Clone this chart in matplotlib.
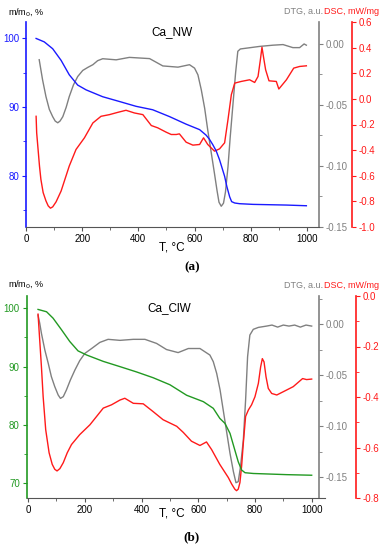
import matplotlib
matplotlib.use("Agg")
import matplotlib.pyplot as plt
from matplotlib.ticker import MultipleLocator

plt.rcParams['font.family'] = ['Liberation Sans', 'DejaVu Sans']

# ---------------- Panel (a) Ca_NW ----------------
a_mass_T = [36, 65, 95, 125, 154, 184, 214, 273, 333, 392, 451, 511, 570, 618, 641, 653, 665, 677, 689, 698, 707, 715, 725, 732, 743, 760, 808, 927, 998]
a_mass = [100, 99.5, 98.5, 96.8, 94.7, 93.2, 92.5, 91.5, 90.8, 90.1, 89.6, 88.6, 87.5, 86.7, 85.9, 85.3, 84.5, 83.6, 82.3, 81.1, 79.9, 78.4, 76.9, 76.2, 76.0, 75.9, 75.8, 75.7, 75.6]

a_dtg_T = [47, 59, 71, 83, 95, 104, 113, 121, 131, 143, 154, 169, 184, 202, 220, 238, 255, 273, 321, 368, 440, 487, 541, 582, 600, 612, 624, 636, 647, 659, 671, 680, 687, 695, 703, 710, 719, 727, 737, 746, 754, 763, 832, 879, 915, 950, 974, 990, 998]
a_dtg = [-0.0129, -0.0294, -0.0431, -0.0536, -0.0596, -0.0632, -0.0646, -0.0632, -0.0596, -0.0519, -0.0431, -0.0335, -0.0267, -0.0217, -0.0192, -0.0170, -0.0137, -0.0121, -0.013, -0.011, -0.012, -0.018, -0.019, -0.017, -0.0198, -0.0253, -0.0376, -0.0527, -0.0706, -0.0885, -0.1063, -0.1201, -0.1297, -0.1330, -0.1305, -0.1214, -0.1008, -0.0761, -0.0486, -0.0239, -0.0060, -0.0041, -0.002, -0.001, -0.0005, -0.003, -0.003, 0.000, -0.001]

a_dsc_T = [36, 38, 42, 48, 53, 61, 71, 79, 87, 95, 107, 125, 154, 178, 208, 238, 267, 297, 327, 356, 386, 416, 446, 469, 499, 517, 535, 546, 570, 594, 618, 632, 647, 671, 689, 707, 719, 731, 743, 766, 796, 814, 826, 834, 840, 846, 853, 865, 891, 900, 927, 953, 974, 998]
a_dsc = [-0.136, -0.265, -0.369, -0.524, -0.628, -0.731, -0.796, -0.835, -0.853, -0.843, -0.804, -0.719, -0.524, -0.395, -0.304, -0.188, -0.136, -0.123, -0.105, -0.089, -0.110, -0.123, -0.208, -0.226, -0.260, -0.278, -0.278, -0.273, -0.338, -0.361, -0.356, -0.304, -0.356, -0.408, -0.390, -0.343, -0.162, 0.033, 0.123, 0.136, 0.149, 0.128, 0.175, 0.300, 0.403, 0.320, 0.227, 0.141, 0.136, 0.077, 0.149, 0.240, 0.253, 0.258]

# ---------------- Panel (b) Ca_ClW ----------------
b_mass_T = [35, 65, 88, 118, 147, 176, 206, 265, 324, 382, 441, 500, 559, 618, 653, 676, 694, 712, 729, 741, 753, 765, 794, 912, 1000]
b_mass = [99.8, 99.4, 98.3, 96.3, 94.3, 92.7, 92.0, 90.9, 90.0, 89.1, 88.1, 86.9, 85.1, 84.0, 82.86, 81.14, 80.29, 78.57, 75.71, 73.71, 72.29, 71.83, 71.7, 71.5, 71.4]

b_dtg_T = [35, 41, 47, 59, 71, 82, 94, 106, 114, 124, 135, 149, 165, 182, 200, 224, 253, 282, 324, 371, 412, 453, 488, 529, 565, 606, 641, 653, 665, 677, 688, 700, 712, 724, 733, 741, 749, 759, 767, 774, 782, 794, 812, 841, 860, 880, 900, 920, 940, 960, 980, 1000]
b_dtg = [0.0088, 0.0007, -0.0092, -0.0255, -0.0386, -0.0516, -0.0614, -0.0696, -0.0729, -0.0712, -0.0647, -0.0549, -0.0451, -0.0359, -0.0288, -0.024, -0.018, -0.015, -0.016, -0.015, -0.015, -0.019, -0.025, -0.028, -0.024, -0.024, -0.0304, -0.0369, -0.0484, -0.0647, -0.0843, -0.1056, -0.1268, -0.1448, -0.1556, -0.1546, -0.1399, -0.1137, -0.0745, -0.0320, -0.0108, -0.0052, -0.0033, -0.002, -0.001, -0.003, -0.001, -0.002, -0.001, -0.003, -0.001, -0.002]

b_dsc_T = [35, 41, 47, 53, 62, 74, 85, 94, 102, 112, 124, 138, 153, 182, 218, 265, 294, 324, 341, 371, 406, 441, 476, 524, 547, 576, 606, 629, 647, 676, 706, 718, 729, 735, 741, 747, 753, 759, 767, 777, 788, 800, 812, 820, 826, 832, 839, 847, 859, 877, 900, 935, 968, 982, 1000]
b_dsc = [-0.0719, -0.1765, -0.2810, -0.3987, -0.5294, -0.6209, -0.6667, -0.6863, -0.6928, -0.6837, -0.6601, -0.6209, -0.5882, -0.549, -0.510, -0.444, -0.431, -0.412, -0.405, -0.425, -0.427, -0.458, -0.490, -0.516, -0.540, -0.575, -0.592, -0.578, -0.608, -0.667, -0.719, -0.745, -0.765, -0.771, -0.765, -0.739, -0.673, -0.582, -0.477, -0.451, -0.431, -0.399, -0.346, -0.281, -0.248, -0.261, -0.320, -0.366, -0.386, -0.392, -0.379, -0.359, -0.327, -0.331, -0.329]

W, H = 389, 550
fig = plt.figure(figsize=(W / 100, H / 100), dpi=100)

GRAY = '#808080'
RED = '#ff1a1a'
BLUE = '#1a1aff'
GREEN = '#229922'
FS = 7


def fx(px):
    return px / W


def fy(py):
    return 1 - py / H


def panel(rect, xlim, ylim_m, ylim_dtg, ylim_dsc, mass_T, mass, mcol, dtg_T, dtg, dsc_T, dsc,
          dtg_pos, dsc_pos, dsc_major, dsc_minor, title, title_xy):
    ax = fig.add_axes(rect)
    ax.set_xlim(*xlim)
    ax.set_ylim(*ylim_m)
    ax2 = ax.twinx()
    ax3 = ax.twinx()
    ax2.set_ylim(*ylim_dtg)
    ax3.set_ylim(*ylim_dsc)

    ax2.plot(dtg_T, dtg, color=GRAY, lw=1.0)
    ax3.plot(dsc_T, dsc, color=RED, lw=1.0)
    ax.plot(mass_T, mass, color=mcol, lw=1.0)
    ax.set_zorder(3)
    ax.patch.set_visible(False)

    for a in (ax, ax2, ax3):
        a.spines['top'].set_visible(False)
    ax.spines['right'].set_visible(False)
    ax2.spines['left'].set_visible(False)
    ax3.spines['left'].set_visible(False)
    ax.spines['left'].set_color(mcol)
    ax.spines['left'].set_linewidth(1.2)
    ax.spines['bottom'].set_color('#555555')
    ax2.spines['bottom'].set_visible(False)
    ax3.spines['bottom'].set_visible(False)
    ax2.spines['right'].set_position(('axes', dtg_pos))
    ax2.spines['right'].set_color(GRAY)
    ax2.spines['right'].set_linewidth(1.2)
    ax3.spines['right'].set_position(('axes', dsc_pos))
    ax3.spines['right'].set_color(RED)
    ax3.spines['right'].set_linewidth(1.2)

    ax.xaxis.set_major_locator(MultipleLocator(200))
    ax.xaxis.set_minor_locator(MultipleLocator(100))
    ax.yaxis.set_major_locator(MultipleLocator(10))
    ax.yaxis.set_minor_locator(MultipleLocator(5))
    ax.tick_params(axis='x', which='both', direction='out', colors='#555555', labelcolor='black',
                   labelsize=FS, pad=2)
    ax.tick_params(axis='x', which='major', length=3)
    ax.tick_params(axis='x', which='minor', length=2)
    ax.tick_params(axis='y', which='both', direction='out', colors=mcol, labelsize=FS, pad=2)
    ax.tick_params(axis='y', which='major', length=3)
    ax.tick_params(axis='y', which='minor', length=2)

    ax2.yaxis.set_major_locator(MultipleLocator(0.05))
    ax2.yaxis.set_minor_locator(MultipleLocator(0.025))
    ax2.yaxis.set_major_formatter(plt.FuncFormatter(lambda v, p: f"{v:.2f}".replace('-0.00', '0.00')))
    ax2.tick_params(axis='y', which='both', direction='out', colors=GRAY, labelsize=FS, pad=2)
    ax2.tick_params(axis='y', which='major', length=3)
    ax2.tick_params(axis='y', which='minor', length=2)

    ax3.yaxis.set_major_locator(MultipleLocator(dsc_major))
    if dsc_minor:
        ax3.yaxis.set_minor_locator(MultipleLocator(dsc_minor))
    ax3.yaxis.set_major_formatter(plt.FuncFormatter(lambda v, p: f"{v:.1f}".replace('-0.0', '0.0')))
    ax3.tick_params(axis='y', which='both', direction='out', colors=RED, labelsize=FS, pad=2)
    ax3.tick_params(axis='y', which='major', length=3)
    ax3.tick_params(axis='y', which='minor', length=2)

    fig.text(fx(title_xy[0]), fy(title_xy[1]), title, fontsize=8.5, ha='center', va='center')
    return ax


# Panel (a)
panel([fx(26), fy(227), (319 - 26) / W, (227 - 22) / H], (0, 1043), (72.5, 102.4),
      (-0.15, 0.018), (-1.0, 0.6), a_mass_T, a_mass, BLUE, a_dtg_T, a_dtg, a_dsc_T, a_dsc,
      1.0, 1.113, 0.2, None, 'Ca_NW', (172, 32))

# Panel (b)
panel([fx(26.7), fy(498), (325 - 26.7) / W, (498 - 296) / H], (-5, 1047), (67.5, 102.1),
      (-0.1706, 0.0275), (-0.8, 0.0), b_mass_T, b_mass, GREEN, b_dtg_T, b_dtg, b_dsc_T, b_dsc,
      0.98, 1.104, 0.2, 0.1, 'Ca_ClW', (169, 308))

# Axis titles
for (ym, yr, yt) in [(12, 11, 247), (284, 285, 514)]:
    fig.text(fx(8), fy(ym), 'm/m$_0$, %', fontsize=6.5, ha='left', va='center')
    fig.text(fx(323), fy(yr), 'DTG, a.u.', fontsize=6.5, color=GRAY, ha='right', va='center')
    fig.text(fx(324), fy(yr), 'DSC, mW/mg', fontsize=6.5, color=RED, ha='left', va='center')
    fig.text(fx(172), fy(yt), 'T, °C', fontsize=8.5, ha='center', va='center')

fig.text(fx(192), fy(267), '(a)', fontsize=9.5, ha='center', va='center',
         family=['Liberation Serif'], fontweight='bold')
fig.text(fx(192), fy(537), '(b)', fontsize=9.5, ha='center', va='center',
         family=['Liberation Serif'], fontweight='bold')

fig.savefig('out.png', dpi=100)
